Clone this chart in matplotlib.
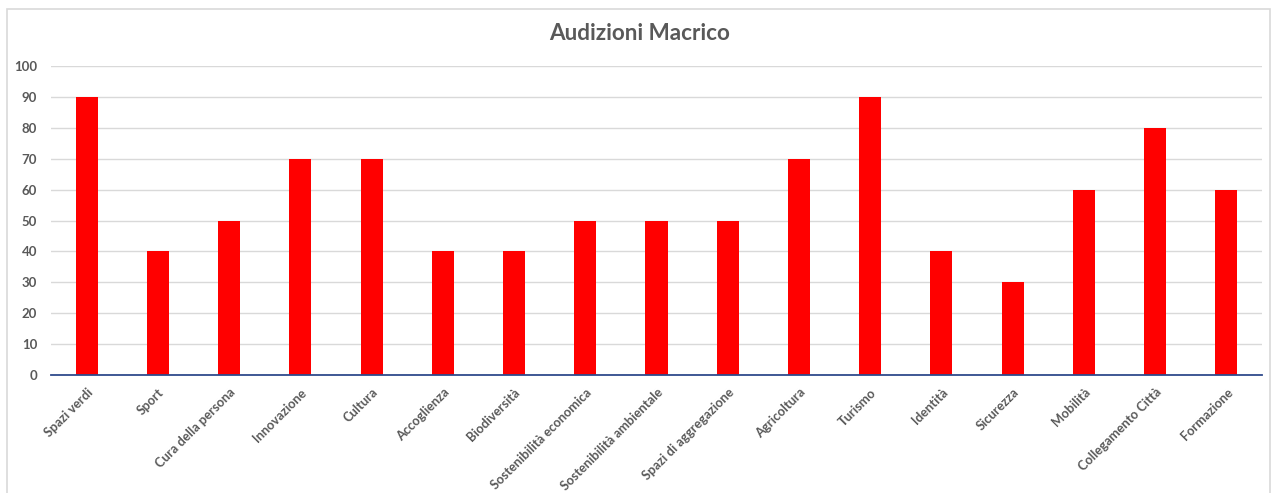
import matplotlib
matplotlib.use("Agg")
import matplotlib.pyplot as plt
from matplotlib.patches import Rectangle
from matplotlib.transforms import ScaledTranslation

categories = ["Spazi verdi", "Sport", "Cura della persona", "Innovazione", "Cultura",
              "Accoglienza", "Biodiversità", "Sostenibilità economica",
              "Sostenibilità ambientale", "Spazi di aggregazione", "Agricoltura",
              "Turismo", "Identità", "Sicurezza", "Mobilità", "Collegamento Città",
              "Formazione"]
values = [90, 40, 50, 70, 70, 40, 40, 50, 50, 50, 70, 90, 40, 30, 60, 80, 60]
yticks = [0, 10, 20, 30, 40, 50, 60, 70, 80, 90, 100]
title = "Audizioni Macrico"

plt.rcParams['font.family'] = ['Lato', 'DejaVu Sans']

W, H = 1279, 493
fig = plt.figure(figsize=(W / 100, H / 100), dpi=100)
fig.patch.set_facecolor("white")

# outer chart border
fig.patches.append(Rectangle((7 / W, -0.01), (1270 - 7) / W, 1 - 9 / H + 0.01,
                             transform=fig.transFigure, fill=False,
                             edgecolor="#d9d9d9", linewidth=1.2))

ax = fig.add_axes([51 / W, 1 - 375 / H, (1262 - 51) / W, (375 - 66) / H])
x = list(range(len(categories)))
ax.bar(x, values, width=0.31, color="#ff0000", zorder=3)
ax.set_xlim(-0.5, len(categories) - 0.5)
ax.set_ylim(0, 100)
ax.set_yticks(yticks)
ax.set_yticklabels([str(t) for t in yticks], fontsize=9.5, fontweight="bold", color="#595959")
ax.set_xticks(x)
ax.set_xticklabels(categories, rotation=45, ha="right", va="top", rotation_mode="anchor",
                   fontsize=9.3, fontweight="bold", color="#595959")
offset = ScaledTranslation(5 / 100, 0, fig.dpi_scale_trans)
for lab in ax.get_xticklabels():
    lab.set_transform(lab.get_transform() + offset)
ax.tick_params(axis="both", length=0)
ax.tick_params(axis="y", pad=10)
ax.tick_params(axis="x", pad=8)
ax.grid(axis="y", color="#d9d9d9", linewidth=1, zorder=0)
for s in ["top", "right", "left"]:
    ax.spines[s].set_visible(False)
ax.spines["bottom"].set_color("#2f4b8c")
ax.spines["bottom"].set_linewidth(1.3)
ax.spines["bottom"].set_zorder(4)

fig.text(0.5, 1 - 34 / H, title, ha="center", va="center", fontsize=16.2,
         fontweight="bold", color="#595959")

fig.savefig("out.png", dpi=100)
